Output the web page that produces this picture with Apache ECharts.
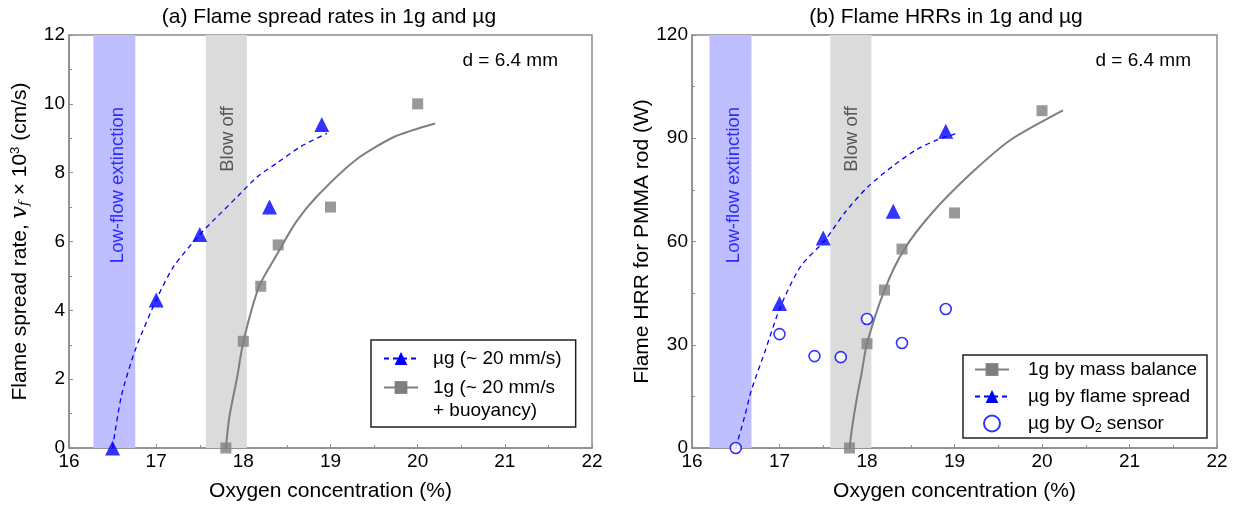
<!DOCTYPE html>
<html>
<head>
<meta charset="utf-8">
<script src="https://cdn.jsdelivr.net/npm/echarts@6/dist/echarts.min.js"></script>
<style>
    html, body {margin: 0; padding: 0; background: #fff;}
    #main {width: 1235px; height: 509px;}
</style>
</head>
<body>
<div id="main"></div>
<script>
var FONT = '"Liberation Sans", Arial, sans-serif';

// (a) 火焰传播速率 数据点
var muO2 = [16.5, 17.0, 17.5, 18.3, 18.9];
var muSpread = [0, 4.3, 6.2, 7.0, 9.4];
var oneO2 = [17.8, 18.0, 18.2, 18.4, 19.0, 20.0];
var oneSpread = [0, 3.1, 4.7, 5.9, 7.0, 10.0];

// (b) HRR 数据点
var oneHrr = [0, 30.3, 45.9, 57.8, 68.3, 98.0];
var muHrrO2 = [17.0, 17.5, 18.3, 18.9];
var muHrr = [42.0, 61.0, 68.8, 92.0];
var sensorO2 = [16.5, 17.0, 17.4, 17.7, 18.0, 18.4, 18.9];
var sensorHrr = [0, 33.1, 26.7, 26.4, 37.5, 30.5, 40.4];

// 拟合曲线
var muFitX = [16.5, 16.6, 16.76, 17.0, 17.2, 17.5, 17.66, 17.93, 18.16, 18.38, 18.66, 18.96];
var muFitY = [0, 1.5, 2.85, 4.3, 5.27, 6.2, 6.62, 7.3, 7.88, 8.27, 8.76, 9.14];
var oneFitX = [17.8, 17.84, 17.93, 18.0, 18.18, 18.38, 18.6, 18.84, 19.29, 19.74, 20.2];
var oneFitY = [0, 0.91, 2.07, 3.09, 4.69, 5.6, 6.55, 7.3, 8.37, 9.05, 9.43];
var muHrrFitX = [16.5, 16.6, 16.68, 16.84, 17.01, 17.24, 17.52, 17.75, 18.01, 18.3, 18.56, 18.8, 19.05];
var muHrrFitY = [0, 9, 16.9, 28.5, 41, 52.7, 60.4, 68.5, 75.9, 82, 86.6, 89.5, 91.6];
var oneHrrFitX = [17.8, 17.83, 17.88, 17.94, 18.0, 18.2, 18.42, 18.74, 19.19, 19.64, 20.24];
var oneHrrFitY = [0, 6, 13.9, 22, 30.4, 45.9, 57.5, 68.2, 79.8, 89.5, 98.1];

// 区域带 [左图, 右图]
var lowFlowBand = [[16.28, 16.76], [16.2, 16.68]];
var blowOffBand = [[17.57, 18.04], [17.58, 18.05]];

var xTicks = [16, 22, 1];
var yTicksA = [0, 12, 2];
var yTicksB = [0, 120, 30];

function pairs(xs, ys) {
    var out = [];
    for (var i = 0; i < xs.length; i++) {
        out.push([xs[i], ys[i]]);
    }
    return out;
}

var BLUE = '#0000ff';
var GRAY = '#7f7f7f';
var AXIS = '#8c8c8c';

function xAxisOp(idx) {
    return {
        type: 'value', gridIndex: idx,
        min: xTicks[0], max: xTicks[1], interval: xTicks[2],
        name: 'Oxygen concentration (%)',
        nameLocation: 'middle', nameGap: 33,
        nameTextStyle: {fontSize: 21, fontFamily: FONT, color: '#000'},
        axisLine: {lineStyle: {color: AXIS, width: 1.5}},
        axisTick: {inside: true, length: 4, lineStyle: {color: AXIS}},
        minorTick: {show: true, splitNumber: 2, length: 3, lineStyle: {color: AXIS}},
        axisLabel: {fontSize: 19, fontFamily: FONT, color: '#000', margin: 4},
        splitLine: {show: false}
    };
}

function yAxisOp(idx, ticks, name, rich) {
    return {
        type: 'value', gridIndex: idx,
        min: ticks[0], max: ticks[1], interval: ticks[2],
        name: name,
        nameLocation: 'middle', nameGap: 38, nameRotate: 90,
        nameTextStyle: {fontSize: 21, fontFamily: FONT, color: '#000', rich: rich},
        axisLine: {lineStyle: {color: AXIS, width: 1.5}},
        axisTick: {inside: true, length: 4, lineStyle: {color: AXIS}},
        minorTick: {show: true, splitNumber: 2, length: 3, lineStyle: {color: AXIS}},
        axisLabel: {fontSize: 19, fontFamily: FONT, color: '#000', margin: 4},
        splitLine: {show: false}
    };
}

function bandSeries(idx) {
    return {
        type: 'scatter', xAxisIndex: idx, yAxisIndex: idx,
        data: [], silent: true, z: 1,
        markArea: {
            silent: true,
            data: [
                [{xAxis: lowFlowBand[idx][0], itemStyle: {color: '#bfbfff'}}, {xAxis: lowFlowBand[idx][1]}],
                [{xAxis: blowOffBand[idx][0], itemStyle: {color: '#dcdbdc'}}, {xAxis: blowOffBand[idx][1]}]
            ]
        }
    };
}

function fitSeries(idx, name, data, color, dashed, symbol, lineWidth) {
    return {
        type: 'line', name: name, xAxisIndex: idx, yAxisIndex: idx,
        data: data, smooth: 0.25, showSymbol: false,
        symbol: symbol, symbolSize: 13, z: 3,
        lineStyle: {color: color, width: lineWidth, type: dashed ? [5, 4] : 'solid'},
        itemStyle: {color: color}
    };
}

function pointSeries(idx, name, data, color, symbol, size) {
    return {
        type: 'scatter', name: name, xAxisIndex: idx, yAxisIndex: idx,
        data: data, symbol: symbol, symbolSize: size, z: 4,
        itemStyle: {color: color}
    };
}

var dom = document.getElementById('main');
var myChart = echarts.init(dom, null, {renderer: 'canvas'});

var legendBase = {
    orient: 'vertical',
    backgroundColor: '#fff',
    borderColor: '#222',
    borderWidth: 1.5,
    borderRadius: 0,
    itemWidth: 34,
    itemHeight: 16,
    textStyle: {fontSize: 19, fontFamily: FONT, color: '#000', lineHeight: 23, padding: [0, 0, 0, 10]}
};

var option = {
    animation: false,
    backgroundColor: '#fff',
    grid: [
        {left: 69, right: 643, top: 35, bottom: 61, show: true, borderColor: AXIS, borderWidth: 1.5, backgroundColor: 'transparent'},
        {left: 692, right: 18, top: 35, bottom: 61, show: true, borderColor: AXIS, borderWidth: 1.5, backgroundColor: 'transparent'}
    ],
    xAxis: [xAxisOp(0), xAxisOp(1)],
    yAxis: [
        yAxisOp(0, yTicksA, 'Flame spread rate, {it|v}{sub|f} × 10{sup|3} (cm/s)', {
            it: {fontSize: 22, fontStyle: 'italic', fontFamily: '"DejaVu Serif", serif', color: '#000'},
            sub: {fontSize: 13, fontStyle: 'italic', fontFamily: '"DejaVu Serif", serif', verticalAlign: 'bottom', color: '#000'},
            sup: {fontSize: 13, fontFamily: FONT, verticalAlign: 'top', color: '#000'}
        }),
        yAxisOp(1, yTicksB, 'Flame HRR for PMMA rod (W)', {})
    ],
    legend: [
        Object.assign({}, legendBase, {
            left: 371, top: 340,
            padding: [7, 14, 5, 12],
            itemGap: -17,
            formatter: function (name) {
                // 第二项图标对齐首行
                return name.indexOf('buoyancy') > -1 ? ' \n' + name : name;
            },
            data: ['µg (~ 20 mm/s)', '1g (~ 20 mm/s\n+ buoyancy)']
        }),
        Object.assign({}, legendBase, {
            left: 963, top: 355,
            padding: [3, 10, 3, 11],
            itemGap: 4,
            formatter: function (name) {
                return name === 'µg by O2 sensor' ? 'µg by O{sub|2} sensor' : name;
            },
            textStyle: {
                fontSize: 19, fontFamily: FONT, color: '#000', lineHeight: 23, padding: [0, 0, 0, 14],
                rich: {sub: {fontSize: 12, fontFamily: FONT, color: '#000', verticalAlign: 'bottom', lineHeight: 14}}
            },
            data: ['1g by mass balance', 'µg by flame spread', 'µg by O2 sensor']
        })
    ],
    series: [
        bandSeries(0),
        fitSeries(0, 'µg (~ 20 mm/s)', pairs(muFitX, muFitY), BLUE, true, 'triangle', 1.3),
        fitSeries(0, '1g (~ 20 mm/s\n+ buoyancy)', pairs(oneFitX, oneFitY), GRAY, false, 'rect', 2),
        pointSeries(0, 'a-mu', pairs(muO2, muSpread), BLUE, 'triangle', 15),
        pointSeries(0, 'a-1g', pairs(oneO2, oneSpread), GRAY, 'rect', 11),

        bandSeries(1),
        fitSeries(1, '1g by mass balance', pairs(oneHrrFitX, oneHrrFitY), GRAY, false, 'rect', 2),
        fitSeries(1, 'µg by flame spread', pairs(muHrrFitX, muHrrFitY), BLUE, true, 'triangle', 1.3),
        pointSeries(1, 'b-1g', pairs(oneO2, oneHrr), GRAY, 'rect', 11),
        pointSeries(1, 'b-mu', pairs(muHrrO2, muHrr), BLUE, 'triangle', 15),
        {
            type: 'scatter', name: 'µg by O2 sensor', xAxisIndex: 1, yAxisIndex: 1,
            data: pairs(sensorO2, sensorHrr), symbol: 'circle', symbolSize: 11, z: 4,
            itemStyle: {color: '#fff', borderColor: BLUE, borderWidth: 1.6}
        }
    ],
    graphic: [
        {type: 'text', style: {x: 329, y: 17, text: '(a) Flame spread rates in 1g and µg', font: '21px ' + FONT, fill: '#000', align: 'center', verticalAlign: 'middle'}},
        {type: 'text', style: {x: 946, y: 17, text: '(b) Flame HRRs in 1g and µg', font: '21px ' + FONT, fill: '#000', align: 'center', verticalAlign: 'middle'}},
        {type: 'text', z: 10, style: {x: 558, y: 61, text: 'd = 6.4 mm', font: '19px ' + FONT, fill: '#000', align: 'right', verticalAlign: 'middle'}},
        {type: 'text', z: 10, style: {x: 1191, y: 61, text: 'd = 6.4 mm', font: '19px ' + FONT, fill: '#000', align: 'right', verticalAlign: 'middle'}},
        {type: 'text', z: 10, x: 118, y: 185, rotation: Math.PI / 2, style: {x: 0, y: 0, text: 'Low-flow extinction', font: '18.5px ' + FONT, fill: '#2a2aff', align: 'center', verticalAlign: 'middle'}},
        {type: 'text', z: 10, x: 228, y: 139, rotation: Math.PI / 2, style: {x: 0, y: 0, text: 'Blow off', font: '18.5px ' + FONT, fill: '#555', align: 'center', verticalAlign: 'middle'}},
        {type: 'text', z: 10, x: 734, y: 185, rotation: Math.PI / 2, style: {x: 0, y: 0, text: 'Low-flow extinction', font: '18.5px ' + FONT, fill: '#2a2aff', align: 'center', verticalAlign: 'middle'}},
        {type: 'text', z: 10, x: 852, y: 139, rotation: Math.PI / 2, style: {x: 0, y: 0, text: 'Blow off', font: '18.5px ' + FONT, fill: '#555', align: 'center', verticalAlign: 'middle'}}
    ]
};

myChart.setOption(option);
</script>
</body>
</html>
